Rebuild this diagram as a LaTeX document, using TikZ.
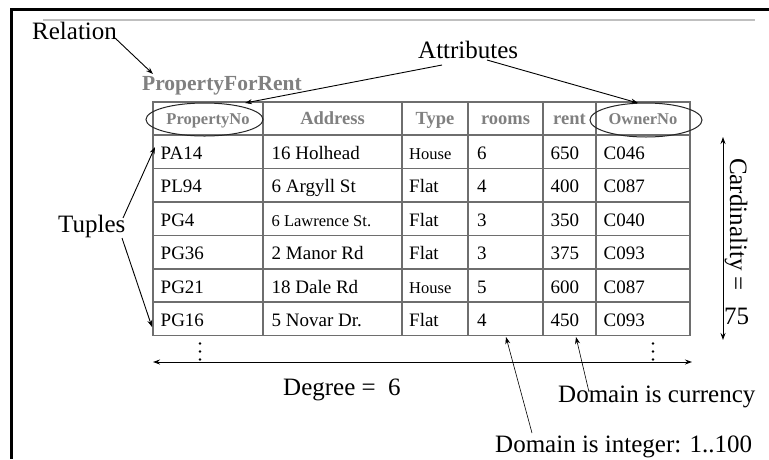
\documentclass[tikz,border=0pt]{standalone}
\usepackage{fontspec}
\setmainfont{Liberation Serif}
\usetikzlibrary{arrows.meta,shapes.geometric}
\definecolor{hgray}{HTML}{808080}
\definecolor{tgray}{HTML}{6E6E6E}
\begin{document}
\begin{tikzpicture}[x=1pt,y=-1pt,
  lbl/.style={inner sep=0pt, font=\fontsize{25}{30}\selectfont, anchor=base west},
  hdr/.style={inner sep=0pt, font=\bfseries\fontsize{18.5}{22}\selectfont, text=hgray, anchor=base},
  hdrsm/.style={inner sep=0pt, font=\bfseries\fontsize{16.5}{20}\selectfont, text=hgray, anchor=base},
  tcell/.style={inner sep=0pt, font=\fontsize{19}{23}\selectfont, anchor=base west},
  tcellsm/.style={inner sep=0pt, font=\fontsize{16.5}{20}\selectfont, anchor=base west},
  arr/.style={-{Stealth[length=7pt,width=5pt]}, line width=0.9pt},
  darr/.style={{Stealth[length=7pt,width=5pt]}-{Stealth[length=7pt,width=5pt]}, line width=0.9pt},
  tgrid/.style={draw=tgray, line width=1.1pt},
  ell/.style={ellipse, draw=black!85, line width=1pt, inner sep=0pt}
]
\useasboundingbox (0,0) rectangle (769,459);
\fill[white] (0,0) rectangle (769,459);
% frame
\draw[line width=2.2pt] (10,9.5) -- (769,9.5);
\draw[line width=2.5pt] (11.5,8.5) -- (11.5,459);
\draw[black!25, line width=2pt] (43,20) -- (755,20);

% table grid
\draw[tgrid] (153,102) rectangle (690,335.5);
\foreach \x in {263,402,468,543,596} \draw[tgrid] (\x,102) -- (\x,335.5);
\foreach \y in {135,168.5,202,235.5,269,302} \draw[tgrid] (153,\y) -- (690,\y);

% header
\node[hdrsm] (hPno) at (208,124) {PropertyNo};
\node[hdr]  (hAdr) at (332.5,124) {Address};
\node[hdr]  (hTyp) at (435,124) {Type};
\node[hdr]  (hRoo) at (505.5,124) {rooms};
\node[hdr]  (hRen) at (569.5,124) {rent};
\node[hdrsm] (hOwn) at (643,124) {OwnerNo};
\node[ell, minimum width=117pt, minimum height=33pt] (ellP) at (204.5,119.5) {};
\node[ell, minimum width=112pt, minimum height=34pt] (ellO) at (646,120) {};

% rows
\node[tcell]  (r1c1) at (160.5,159.3) {PA14};
\node[tcell]  (r1c2) at (271.5,159.3) {16 Holhead};
\node[tcellsm] (r1c3) at (409,159.3) {House};
\node[tcell]  (r1c4) at (477,159.3) {6};
\node[tcell]  (r1c5) at (550.5,159.3) {650};
\node[tcell]  (r1c6) at (603.5,159.3) {C046};

\node[tcell]  (r2c1) at (160.5,192.8) {PL94};
\node[tcell]  (r2c2) at (271.5,192.8) {6 Argyll St};
\node[tcell]  (r2c3) at (409,192.8) {Flat};
\node[tcell]  (r2c4) at (477,192.8) {4};
\node[tcell]  (r2c5) at (550.5,192.8) {400};
\node[tcell]  (r2c6) at (603.5,192.8) {C087};

\node[tcell]  (r3c1) at (160.5,226.3) {PG4};
\node[tcellsm] (r3c2) at (271.5,226.3) {6 Lawrence St.};
\node[tcell]  (r3c3) at (409,226.3) {Flat};
\node[tcell]  (r3c4) at (477,226.3) {3};
\node[tcell]  (r3c5) at (550.5,226.3) {350};
\node[tcell]  (r3c6) at (603.5,226.3) {C040};

\node[tcell]  (r4c1) at (160.5,259.8) {PG36};
\node[tcell]  (r4c2) at (271.5,259.8) {2 Manor Rd};
\node[tcell]  (r4c3) at (409,259.8) {Flat};
\node[tcell]  (r4c4) at (477,259.8) {3};
\node[tcell]  (r4c5) at (550.5,259.8) {375};
\node[tcell]  (r4c6) at (603.5,259.8) {C093};

\node[tcell]  (r5c1) at (160.5,293.3) {PG21};
\node[tcell]  (r5c2) at (271.5,293.3) {18 Dale Rd};
\node[tcellsm] (r5c3) at (409,293.3) {House};
\node[tcell]  (r5c4) at (477,293.3) {5};
\node[tcell]  (r5c5) at (550.5,293.3) {600};
\node[tcell]  (r5c6) at (603.5,293.3) {C087};

\node[tcell]  (r6c1) at (160.5,326.3) {PG16};
\node[tcell]  (r6c2) at (271.5,326.3) {5 Novar Dr.};
\node[tcell]  (r6c3) at (409,326.3) {Flat};
\node[tcell]  (r6c4) at (477,326.3) {4};
\node[tcell]  (r6c5) at (550.5,326.3) {450};
\node[tcell]  (r6c6) at (603.5,326.3) {C093};

% labels
\node[lbl] (rel) at (32,39) {Relation};
\node[inner sep=0pt, font=\bfseries\fontsize{21.5}{26}\selectfont, text=hgray, anchor=base west] (pfr) at (142,90) {PropertyForRent};
\node[lbl] (attr) at (418,58.5) {Attributes};
\node[lbl] (tup) at (58,232) {Tuples};
\node[lbl] (deg) at (283,395) {Degree = \ 6};
\node[lbl] (dcur) at (558,402) {Domain is currency};
\node[lbl] (dint) at (495,452) {Domain is integer: 1..100};
\node[lbl, rotate=-90] (card) at (730,158) {Cardinality =};
\node[lbl] (n75) at (724,324) {75};

% coordinates
\coordinate (relS) at (115,38);
\coordinate (relT) at (153,74);
\coordinate (atL) at (442,65);
\coordinate (atLT) at (245,103);
\coordinate (atR) at (487,60);
\coordinate (atRT) at (638,103);
\coordinate (tuA) at (123,218);
\coordinate (tuAT) at (155,147);
\coordinate (tuB) at (122,238);
\coordinate (tuBT) at (152,327);
\coordinate (degL) at (153,362);
\coordinate (degR) at (692,362);
\coordinate (carT) at (723,137);
\coordinate (carB) at (723,340);
\coordinate (intS) at (532,433);
\coordinate (intT) at (506,337);
\coordinate (curS) at (589,392);
\coordinate (curT) at (576,337);

% connectors
\draw[arr] (relS) -- (relT);
\draw[arr] (atL) -- (atLT);
\draw[arr] (atR) -- (atRT);
\draw[arr] (tuA) -- (tuAT);
\draw[arr] (tuB) -- (tuBT);
\draw[darr] (degL) -- (degR);
\draw[darr] (carT) -- (carB);
\draw[arr, line width=0.6pt] (intS) -- (intT);
\draw[arr, line width=0.6pt] (curS) -- (curT);

% continuation dots
\foreach \xx in {200,653} \foreach \yy in {343.5,351.5,359.5} \fill (\xx,\yy) circle (1.3pt);
\end{tikzpicture}
\end{document}
